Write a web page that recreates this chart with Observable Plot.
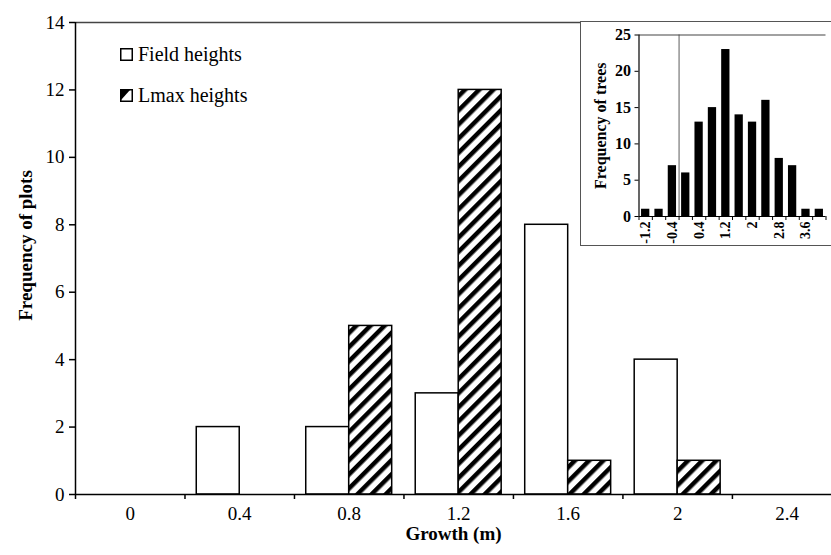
<!DOCTYPE html>
<html><head><meta charset="utf-8">
<script src="https://cdn.jsdelivr.net/npm/d3@7"></script>
<script src="https://cdn.jsdelivr.net/npm/@observablehq/plot@0.6"></script>
<style>
body{margin:0;background:#fff;}
#wrap{position:relative;width:831px;height:555px;overflow:hidden;font-family:"Liberation Serif","Times New Roman",Times,"DejaVu Serif",serif;}
#wrap text{font-family:"Liberation Serif","Times New Roman",Times,"DejaVu Serif",serif;}
#inset{position:absolute;left:580px;top:21px;width:260px;height:223px;border:1.5px solid #555;background:#fff;}
#legend{position:absolute;left:120px;top:42px;font-size:20px;line-height:1;color:#000;}
#legend span{font-family:"Liberation Serif","Times New Roman",Times,serif;}
#legend .row{display:flex;align-items:center;height:24px;margin-bottom:17px;}
#legend svg{margin-right:5px;}
</style></head><body>
<div id="wrap">
  <div id="legend">
    <div class="row"><svg width="13" height="13"><rect x="0.75" y="0.75" width="11.5" height="11.5" fill="white" stroke="black" stroke-width="1.5"/></svg><span>Field heights</span></div>
    <div class="row"><svg width="13" height="13"><rect x="0.75" y="0.75" width="11.5" height="11.5" fill="white" stroke="black" stroke-width="1.5"/><polygon points="1,1 10,1 1,11" fill="black"/></svg><span>Lmax heights</span></div>
  </div>
  <div id="inset"></div>
</div>
<script>
// Main chart data
const growth = [0, 0.4, 0.8, 1.2, 1.6, 2, 2.4];
const fieldHeights = [0, 2, 2, 3, 8, 4, 0];
const lmaxHeights = [0, 0, 5, 12, 1, 1, 0];
const yTicks = [0, 2, 4, 6, 8, 10, 12, 14];

// Inset data
const insetBins = [-1.2, -0.8, -0.4, 0, 0.4, 0.8, 1.2, 1.6, 2, 2.4, 2.8, 3.2, 3.6, 4];
const insetCounts = [1, 1, 7, 6, 13, 15, 23, 14, 13, 16, 8, 7, 1, 1];
const insetTickLabels = [-1.2, -0.4, 0.4, 1.2, 2, 2.8, 3.6];
const insetYTicks = [0, 5, 10, 15, 20, 25];

const FONT = '"Liberation Serif", "Times New Roman", Times, serif';
const step = 0.4;
const half = step / 2;
const bw = 0.157;   // bar width in data units (main)
const ibw = 0.124;  // half bar width (inset)

const rows = growth.map((g, i) => ({growth: g, field: fieldHeights[i], lmax: lmaxHeights[i]}));
const boundaries = growth.map(g => +(g - half).toFixed(2));

const main = Plot.plot({
  width: 831, height: 555,
  marginLeft: 75, marginRight: 0, marginTop: 22, marginBottom: 61,
  style: {fontFamily: FONT, fontSize: "18px", background: "white", color: "black"},
  x: {type: "linear", domain: [growth[0] - half, 2.562]},
  y: {domain: [0, 14]},
  marks: [
    Plot.rectY(rows.filter(d => d.field > 0), {x1: d => d.growth - bw, x2: d => d.growth, y: "field", fill: "white", stroke: "black", strokeWidth: 1.5}),
    Plot.rectY(rows.filter(d => d.lmax > 0), {x1: d => d.growth, x2: d => d.growth + bw, y: "lmax", fill: "url(#hatch)", stroke: "black", strokeWidth: 1.5}),
    Plot.ruleY([0], {stroke: "black", strokeWidth: 1.5}),
    Plot.ruleY([14], {stroke: "#444", strokeWidth: 1.5}),
    Plot.ruleX([growth[0] - half], {stroke: "black", strokeWidth: 1.5}),
    Plot.axisY({ticks: yTicks, tickSize: 6, tickPadding: 5, strokeWidth: 1.5, fontSize: 19, label: "Frequency of plots", labelAnchor: "center", labelArrow: "none", labelOffset: 57}),
    Plot.axisX({ticks: growth, tickSize: 0, tickPadding: 12, fontSize: 19, tickFormat: d => String(d), label: "Growth (m)", labelAnchor: "center", labelArrow: "none", labelOffset: 45}),
    Plot.axisX({ticks: boundaries, tickSize: 5, strokeWidth: 1.5, tickFormat: () => "", label: null})
  ]
});

const defs = d3.select(main).insert("defs", ":first-child");
const pat = defs.append("pattern").attr("id", "hatch").attr("patternUnits", "userSpaceOnUse")
  .attr("width", 10).attr("height", 10).attr("patternTransform", "rotate(45)");
pat.append("rect").attr("width", 10).attr("height", 10).attr("fill", "white");
pat.append("rect").attr("width", 4.5).attr("height", 10).attr("fill", "black");

d3.select(main).selectAll("text").attr("font-family", FONT);
d3.select(main).selectAll('g[aria-label="y-axis label"] text, g[aria-label="x-axis label"] text')
  .attr("font-weight", "bold").attr("font-size", 19);
d3.select(main).selectAll('g[aria-label="y-axis label"] text').attr("dx", 13);

document.getElementById("wrap").prepend(main);

// Inset
const insetData = insetBins.map((b, i) => ({bin: b, count: insetCounts[i]}));
const insetBounds = insetBins.map(b => +(b - half).toFixed(2)).concat([+(insetBins[insetBins.length - 1] + half).toFixed(2)]);

const inset = Plot.plot({
  width: 260, height: 223,
  marginLeft: 57.5, marginRight: 15.5, marginTop: 12.5, marginBottom: 29,
  style: {fontFamily: FONT, fontSize: "14px", fontWeight: "bold", background: "white", color: "black"},
  x: {type: "linear", domain: [insetBins[0] - half, insetBins[insetBins.length - 1] + half]},
  y: {domain: [0, 25]},
  marks: [
    Plot.ruleX([-0.2], {stroke: "#777", strokeWidth: 1.2}),
    Plot.rectY(insetData, {x1: d => d.bin - ibw, x2: d => d.bin + ibw, y: "count", fill: "black"}),
    Plot.ruleY([0], {stroke: "black", strokeWidth: 1.2}),
    Plot.ruleY([25], {stroke: "#444", strokeWidth: 1.2}),
    Plot.ruleX([insetBins[0] - half], {stroke: "black", strokeWidth: 1.2}),
    Plot.axisY({ticks: insetYTicks, tickSize: 4, tickPadding: 4, fontSize: 16, fontWeight: "bold", label: "Frequency of trees", labelAnchor: "center", labelArrow: "none", labelOffset: 44}),
    Plot.axisX({ticks: insetTickLabels, tickSize: 0, tickPadding: 5, tickRotate: -90, fontSize: 14, fontWeight: "bold", tickFormat: d => String(d), label: null}),
    Plot.axisX({ticks: insetBounds, tickSize: 4, tickFormat: () => "", label: null})
  ]
});
d3.select(inset).selectAll("text").attr("font-family", FONT).attr("font-weight", "bold");
d3.select(inset).selectAll('g[aria-label="y-axis label"] text').attr("font-size", 16);
document.getElementById("inset").appendChild(inset);
</script>
</body></html>
